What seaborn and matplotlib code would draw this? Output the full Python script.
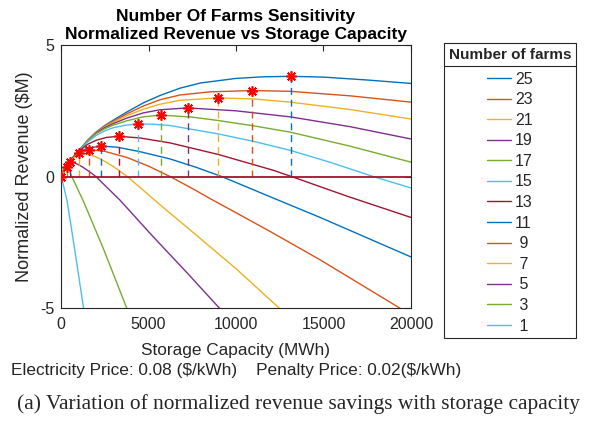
import matplotlib
matplotlib.use("Agg")
import pandas as pd
import seaborn as sns
from matplotlib import pyplot as plt
from matplotlib.lines import Line2D

# number of farms, in legend order
farms = [25, 23, 21, 19, 17, 15, 13, 11, 9, 7, 5, 3, 1]

# curves: storage capacity (MWh) vs normalized revenue ($M)
cap_25 = [0, 300, 600, 1000, 1500, 2000, 2500, 3000, 3750, 4700, 5650, 6800, 8000, 10000, 11500, 13150, 15000, 17500, 20000]
rev_25 = [0, 0.36, 0.66, 0.97, 1.36, 1.69, 1.94, 2.15, 2.45, 2.80, 3.08, 3.36, 3.56, 3.73, 3.79, 3.81, 3.78, 3.67, 3.54]
cap_23 = [0, 300, 600, 1000, 1500, 2000, 2500, 3000, 3750, 4700, 5650, 6800, 8500, 10940, 13100, 16500, 20000]
rev_23 = [0, 0.36, 0.66, 0.97, 1.36, 1.68, 1.92, 2.11, 2.38, 2.68, 2.92, 3.10, 3.22, 3.27, 3.24, 3.07, 2.83]
cap_21 = [0, 300, 600, 1000, 1500, 2000, 2500, 3000, 3750, 4700, 5650, 6800, 9000, 11000, 13100, 16500, 20000]
rev_21 = [0, 0.36, 0.66, 0.97, 1.35, 1.66, 1.89, 2.07, 2.31, 2.56, 2.75, 2.90, 2.99, 2.95, 2.83, 2.55, 2.19]
cap_19 = [0, 300, 600, 1000, 1500, 2000, 2500, 3000, 3750, 4700, 5650, 7240, 10000, 13100, 16500, 20000]
rev_19 = [0, 0.36, 0.66, 0.97, 1.35, 1.65, 1.86, 2.02, 2.22, 2.42, 2.54, 2.61, 2.50, 2.27, 1.90, 1.43]
cap_17 = [0, 300, 600, 1000, 1500, 2000, 2500, 3000, 3750, 4700, 5690, 7500, 9000, 11000, 13100, 16500, 20000]
rev_17 = [0, 0.36, 0.66, 0.97, 1.34, 1.63, 1.82, 1.96, 2.12, 2.27, 2.34, 2.26, 2.13, 1.93, 1.69, 1.16, 0.55]
cap_15 = [0, 300, 600, 1000, 1500, 2000, 2500, 3000, 3750, 4400, 5300, 6240, 9000, 11000, 13100, 15500, 17860, 20000]
rev_15 = [0, 0.36, 0.66, 0.96, 1.30, 1.56, 1.74, 1.86, 1.96, 2.00, 1.99, 1.94, 1.62, 1.34, 1.00, 0.52, 0.0, -0.43]
cap_13 = [0, 300, 600, 1000, 1500, 2000, 2600, 3300, 4500, 6240, 9000, 12140, 13190, 16340, 20000]
rev_13 = [0, 0.36, 0.65, 0.95, 1.22, 1.38, 1.49, 1.53, 1.47, 1.28, 0.84, 0.24, 0.0, -0.74, -1.55]
cap_11 = [0, 300, 600, 1000, 1500, 2280, 3200, 4500, 6240, 7700, 9200, 11900, 14810, 20000]
rev_11 = [0, 0.36, 0.65, 0.92, 1.08, 1.16, 1.12, 0.95, 0.67, 0.36, 0.0, -0.75, -1.55, -3.05]
cap_9 = [0, 300, 600, 1000, 1600, 2500, 3760, 5000, 6240, 7500, 8620, 9670, 12000, 14810, 19380]
rev_9 = [0, 0.36, 0.64, 0.88, 1.03, 0.96, 0.73, 0.40, 0.0, -0.45, -0.87, -1.25, -2.10, -3.16, -5.0]
cap_7 = [0, 300, 600, 1020, 1500, 2000, 2500, 3000, 3800, 5540, 7730, 10010, 12480]
rev_7 = [0, 0.36, 0.62, 0.90, 0.86, 0.75, 0.58, 0.38, 0.0, -1.0, -2.22, -3.5, -5.0]
cap_5 = [0, 150, 300, 514, 800, 1200, 1600, 2000, 3380, 5250, 7200, 9060]
rev_5 = [0, 0.28, 0.44, 0.56, 0.52, 0.38, 0.2, 0.0, -0.9, -2.27, -3.65, -5.0]
cap_3 = [0, 100, 200, 326, 450, 620, 1290, 2400, 3760]
rev_3 = [0, 0.22, 0.33, 0.38, 0.28, 0.0, -0.95, -2.7, -5.0]
cap_1 = [0, 120, 340, 650, 950, 1290]
rev_1 = [0, -0.28, -0.9, -2.2, -3.5, -5.0]

# optimum storage size and revenue for each curve (red stars)
peak_cap = [13150, 10940, 9000, 7240, 5690, 4400, 3300, 2280, 1600, 1020, 514, 326, 0]
peak_rev = [3.81, 3.27, 2.99, 2.61, 2.34, 2.00, 1.53, 1.16, 1.03, 0.90, 0.56, 0.38, 0.0]

caps = [cap_25, cap_23, cap_21, cap_19, cap_17, cap_15, cap_13, cap_11, cap_9, cap_7, cap_5, cap_3, cap_1]
revs = [rev_25, rev_23, rev_21, rev_19, rev_17, rev_15, rev_13, rev_11, rev_9, rev_7, rev_5, rev_3, rev_1]

rows = []
for n, c, r in zip(farms, caps, revs):
    for a, b in zip(c, r):
        rows.append({"farms": n, "cap": a, "rev": b})
df = pd.DataFrame(rows)

matlab = ["#0072BD", "#D95319", "#EDB120", "#7E2F8E", "#77AC30", "#4DBEEE", "#A2142F"]
colors = [matlab[i % 7] for i in range(len(farms))]
ink = "#262626"

sns.set_theme(style="white")
plt.rcParams["font.family"] = ["Liberation Sans", "DejaVu Sans"]
plt.rcParams["axes.unicode_minus"] = False

fig = plt.figure(figsize=(5.97, 4.24), dpi=100)
ax = fig.add_axes([0.1022, 0.2729, 0.5862, 0.6210])

sns.lineplot(data=df, x="cap", y="rev", hue="farms", hue_order=farms,
             palette=colors, estimator=None, sort=False, lw=1.0,
             legend=False, ax=ax)

for pc, pr, col in zip(peak_cap, peak_rev, colors):
    ax.plot([pc, pc], [0, pr], color=col, lw=1.0, dashes=(5, 3.5))
ax.plot([0, 20000], [0, 0], color=matlab[6], lw=1.3)
ax.plot(peak_cap, peak_rev, ls="none", marker=(8, 2, 0), ms=7.5, mew=1.2,
        color="red", zorder=5)

ax.set_xlim(0, 20000)
ax.set_ylim(-5, 5)
ax.set_xticks([0, 5000, 10000, 15000, 20000])
ax.set_yticks([-5, 0, 5])
ax.tick_params(direction="in", length=4, width=0.8, colors=ink, labelsize=11.5,
               top=True, right=True)
ax.tick_params(axis="x", pad=6)
ax.tick_params(axis="y", pad=5)
for s in ax.spines.values():
    s.set_color(ink)
    s.set_linewidth(0.8)
    s.set_visible(True)

ax.set_title("Number Of Farms Sensitivity\nNormalized Revenue vs Storage Capacity",
             fontsize=12.5, fontweight="bold", color="black", pad=4, linespacing=1.25)
ax.set_xlabel("Storage Capacity (MWh)\nElectricity Price: 0.08 (\\$/kWh)    Penalty Price: 0.02(\\$/kWh)",
              fontsize=12.4, color=ink, labelpad=8, linespacing=1.42)
ax.set_ylabel("Normalized Revenue (\\$M)", fontsize=13, color=ink, labelpad=5)

handles = [Line2D([], [], color=c, lw=1.0) for c in colors]
labels = [str(n) if n >= 10 else " " + str(n) for n in farms]
leg = fig.legend(handles, labels, loc="upper left", bbox_to_anchor=(0.7437, 0.8986),
                 borderaxespad=0, title="Number of farms", fontsize=11.5, frameon=True,
                 fancybox=False, edgecolor=ink, framealpha=1, handlelength=1.5,
                 handletextpad=0.25, labelspacing=0.35, borderpad=0.3,
                 alignment="center")
leg.get_title().set_fontweight("bold")
leg.get_title().set_fontsize(11)
leg.get_frame().set_linewidth(0.8)
leg._legend_box.sep = 7  # a bit more room under the title, as in the original

# separator under the legend title
fig.canvas.draw()
fb = leg.get_frame().get_window_extent()
tb = leg.get_title().get_window_extent()
sep_y = (tb.y0 - 4) / fig.bbox.height
fig.add_artist(Line2D([fb.x0 / fig.bbox.width, fb.x1 / fig.bbox.width], [sep_y, sep_y],
                      transform=fig.transFigure, color=ink, lw=0.8, zorder=10))

fig.text(0.5, 0.035, "(a) Variation of normalized revenue savings with storage capacity",
         ha="center", fontsize=15.4, family=["Liberation Serif", "DejaVu Serif"])

fig.savefig("out.png", dpi=100)
